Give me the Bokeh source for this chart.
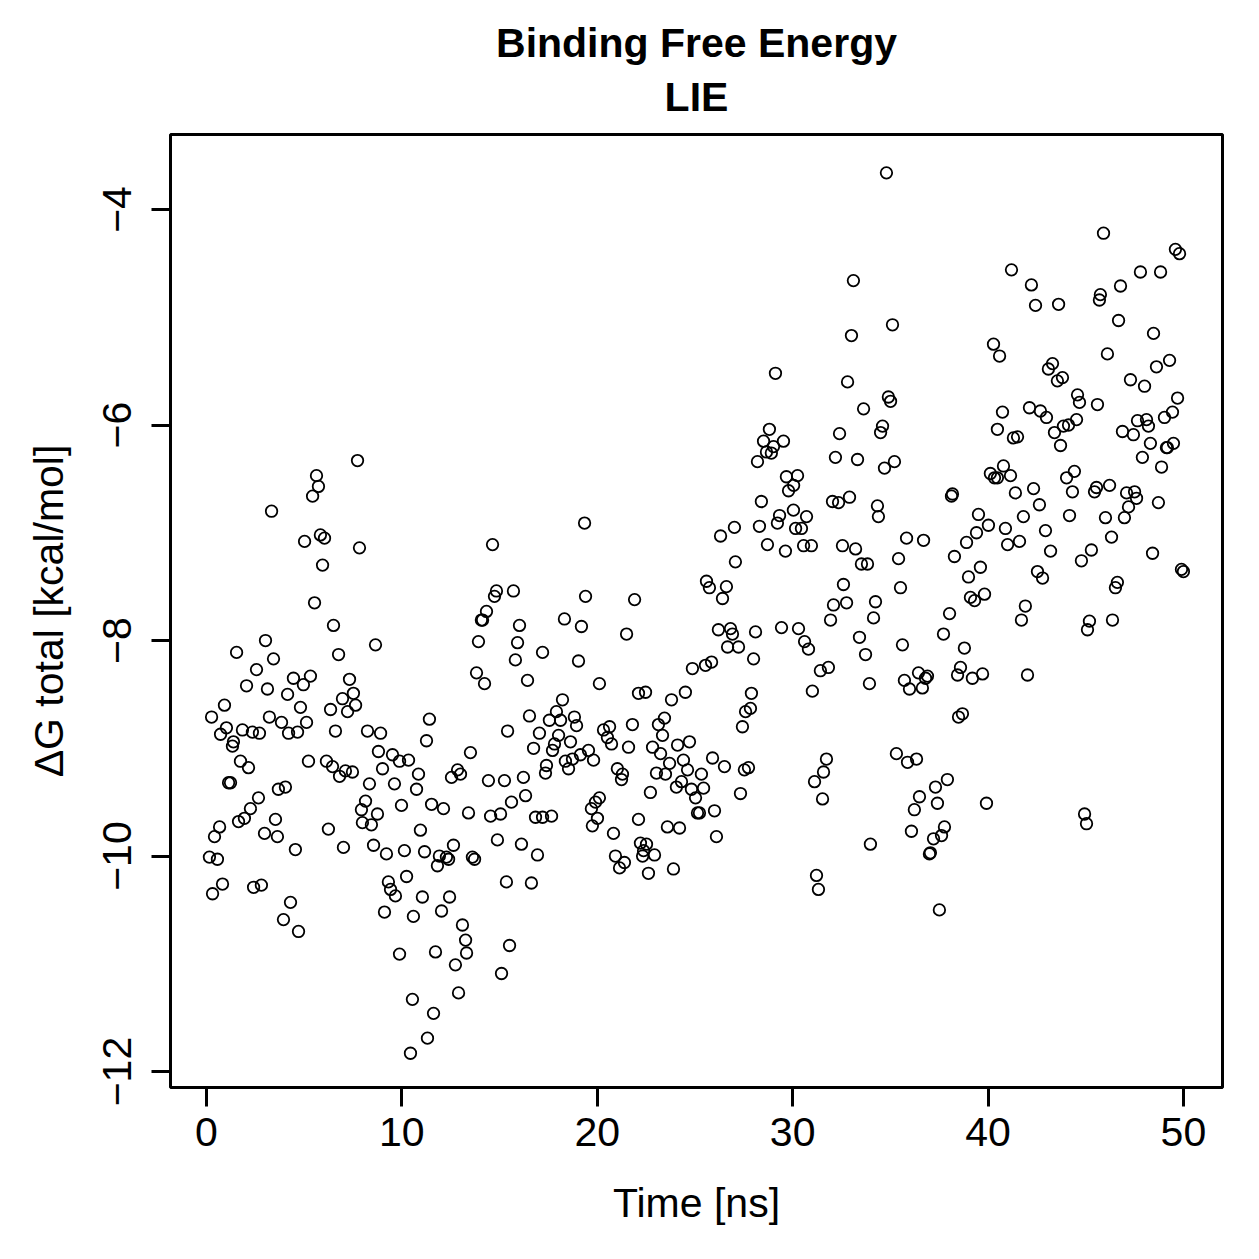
from bokeh.plotting import figure
from bokeh.models import Range1d, Title, FixedTicker
from bokeh.embed import file_html
from bokeh.resources import INLINE

# Time [ns] and ΔG total [kcal/mol], in blocks of ~10 ns
time_0_10 = [7.73, 5.63, 5.73, 5.43, 3.33, 5.02, 5.83, 6.04, 7.83, 5.94, 5.53, 6.50, 3.02, 1.54, 3.43, 6.76, 8.65,
             2.56, 4.45, 4.96, 5.32, 7.32, 2.05, 3.12, 4.15, 6.96, 7.52, 7.63, 7.22, 4.81, 6.35, 0.92, 0.26, 3.22,
             3.84, 5.12, 1.02, 0.72, 1.84, 2.35, 2.71, 4.20, 4.66, 6.60, 8.24, 8.91, 1.38, 1.33, 8.80, 9.52, 1.74,
             2.15, 5.22, 6.14, 6.45, 7.11, 7.47, 9.01, 6.81, 9.62, 1.13, 1.23, 3.68, 4.04, 2.66, 2.25, 1.64, 1.94,
             0.67, 0.41, 3.53, 2.97, 3.63, 6.24, 8.34, 8.14, 7.93, 8.75, 7.98, 8.44, 9.98, 4.55, 7.01, 8.55, 9.21,
             0.15, 0.56, 0.82, 0.31, 2.41, 2.81, 9.31, 9.42, 9.67, 9.11, 4.30, 3.94, 4.71, 9.88]
dg_0_10 = [-6.33, -6.47, -6.57, -6.66, -6.80, -7.08, -7.02, -7.05, -7.14, -7.30, -7.65, -7.86, -8.00, -8.11, -8.17,
           -8.13, -8.04, -8.27, -8.35, -8.41, -8.33, -8.36, -8.42, -8.45, -8.50, -8.54, -8.49, -8.60, -8.66, -8.62,
           -8.64, -8.60, -8.71, -8.71, -8.76, -8.76, -8.81, -8.87, -8.83, -8.85, -8.86, -8.86, -8.85, -8.84, -8.84,
           -8.86, -8.94, -8.98, -9.03, -9.06, -9.12, -9.18, -9.12, -9.12, -9.17, -9.21, -9.22, -9.19, -9.26, -9.33,
           -9.32, -9.32, -9.38, -9.36, -9.46, -9.56, -9.68, -9.65, -9.73, -9.82, -9.66, -9.79, -9.82, -9.75, -9.33,
           -9.49, -9.57, -9.61, -9.69, -9.71, -9.53, -9.94, -9.92, -9.90, -9.98, -10.01, -10.03, -10.26, -10.35,
           -10.29, -10.27, -10.24, -10.31, -10.37, -10.52, -10.43, -10.59, -10.70, -10.91]

time_10_20 = [19.35, 14.64, 14.84, 14.74, 15.71, 19.40, 14.33, 14.07, 14.13, 18.32, 19.19, 16.02, 13.92, 15.92,
              17.20, 15.81, 19.04, 13.82, 14.23, 16.43, 20.11, 11.41, 11.26, 16.53, 15.41, 18.22, 17.91, 17.55,
              18.12, 18.83, 18.94, 17.04, 18.02, 18.63, 17.81, 17.71, 16.74, 19.55, 19.14, 18.73, 18.37, 19.81,
              9.88, 10.34, 13.51, 10.85, 12.85, 13.00, 12.54, 14.43, 15.25, 16.22, 17.40, 17.35, 18.53, 10.75,
              11.52, 12.13, 13.41, 14.54, 15.05, 15.61, 16.33, 16.84, 17.20, 17.66, 20.11, 19.91, 19.70, 20.01,
              19.75, 10.95, 10.13, 11.16, 11.92, 12.28, 12.39, 11.82, 12.64, 13.61, 13.72, 14.89, 16.12, 16.94,
              10.24, 15.35, 16.63, 11.05, 12.44, 10.59, 12.03, 13.10, 13.26, 13.31, 12.74, 11.72, 15.51, 15.10,
              12.90, 10.54, 11.62, 11.31, 10.44]
dg_10_20 = [-6.91, -7.11, -7.54, -7.59, -7.54, -7.59, -7.73, -7.81, -7.81, -7.80, -7.87, -7.86, -8.01, -8.02,
            -8.11, -8.18, -8.19, -8.30, -8.40, -8.37, -8.40, -8.73, -8.93, -8.70, -8.84, -8.55, -8.66, -8.74,
            -8.74, -8.71, -8.79, -8.86, -8.88, -8.94, -8.96, -9.02, -9.00, -9.02, -9.06, -9.10, -9.12, -9.11,
            -9.12, -9.11, -9.04, -9.24, -9.20, -9.24, -9.27, -9.30, -9.30, -9.27, -9.16, -9.23, -9.19, -9.38,
            -9.52, -9.56, -9.60, -9.63, -9.61, -9.50, -9.44, -9.64, -9.64, -9.63, -9.46, -9.50, -9.56, -9.65,
            -9.72, -9.76, -9.95, -9.96, -10.00, -10.01, -10.03, -10.09, -9.90, -10.01, -10.03, -9.85, -9.89,
            -9.99, -10.19, -10.24, -10.25, -10.38, -10.38, -10.56, -10.51, -10.64, -10.78, -10.90, -11.01,
            -10.89, -10.83, -11.09, -11.27, -11.33, -11.46, -11.69, -11.83]

time_20_30 = [28.40, 29.33, 29.22, 29.68, 29.79, 29.53, 26.31, 27.02, 28.30, 28.71, 29.63, 27.07, 25.59, 25.74,
              26.61, 26.41, 21.91, 21.50, 26.20, 26.82, 26.92, 26.67, 27.23, 28.10, 29.43, 28.00, 24.87, 25.54,
              25.85, 22.11, 22.47, 23.80, 24.51, 27.89, 27.59, 27.84, 27.43, 23.44, 23.13, 23.34, 21.80, 20.32,
              20.63, 20.52, 20.73, 21.60, 22.83, 23.24, 24.11, 24.72, 21.03, 21.29, 21.24, 23.70, 24.41, 24.62,
              25.33, 23.03, 23.49, 25.90, 26.51, 27.53, 27.74, 24.05, 24.31, 24.82, 25.44, 25.03, 22.72, 27.33,
              22.11, 20.83, 23.59, 24.21, 25.13, 25.23, 26.00, 26.10, 22.21, 22.52, 22.37, 22.32, 22.93, 20.93,
              21.39, 21.14, 22.62, 23.90, 29.12, 28.81, 28.51, 29.02, 28.66, 28.91, 28.20]
dg_20_30 = [-6.71, -6.84, -6.91, -6.48, -6.61, -6.15, -7.03, -6.95, -6.94, -7.11, -7.17, -7.27, -7.45, -7.51,
            -7.50, -7.61, -7.62, -7.94, -7.90, -7.89, -7.94, -8.06, -8.06, -7.92, -7.88, -8.17, -8.26, -8.23,
            -8.20, -8.49, -8.48, -8.55, -8.48, -8.49, -8.66, -8.63, -8.80, -8.72, -8.78, -8.88, -8.78, -8.83,
            -8.80, -8.90, -8.96, -8.99, -8.99, -9.05, -8.97, -8.94, -9.19, -9.24, -9.29, -9.14, -9.11, -9.20,
            -9.24, -9.23, -9.24, -9.09, -9.17, -9.20, -9.18, -9.36, -9.31, -9.38, -9.37, -9.46, -9.41, -9.42,
            -9.66, -9.79, -9.73, -9.74, -9.60, -9.60, -9.58, -9.82, -9.88, -9.89, -9.95, -10.00, -9.99, -10.00,
            -10.06, -10.11, -10.16, -10.12, -5.52, -6.04, -6.15, -6.20, -6.25, -6.26, -6.34]

time_30_40 = [34.80, 33.11, 35.11, 33.01, 32.81, 34.90, 35.01, 33.63, 34.60, 34.50, 32.40, 32.19, 33.32, 35.21,
              34.70, 30.25, 30.05, 32.04, 32.35, 32.91, 34.34, 34.39, 38.18, 38.13, 30.04, 30.71, 30.15, 30.45,
              39.51, 40.02, 39.41, 38.90, 35.83, 36.70, 30.56, 30.96, 32.55, 33.22, 33.52, 33.83, 35.42, 38.28,
              39.61, 39.00, 39.10, 39.31, 39.82, 32.60, 35.52, 32.09, 32.76, 34.24, 34.14, 31.94, 38.03, 30.30,
              30.61, 30.81, 33.42, 37.72, 35.62, 38.79, 33.73, 31.42, 31.83, 31.01, 33.93, 35.72, 35.98, 36.44,
              36.64, 36.90, 36.80, 38.59, 38.44, 39.20, 39.72, 38.49, 38.69, 31.73, 31.58, 31.12, 31.53, 35.31,
              35.88, 36.34, 37.92, 37.31, 36.49, 36.23, 37.41, 39.92, 36.08, 37.77, 37.62, 37.21, 37.05, 37.00,
              33.98, 31.22, 31.32, 37.51]
dg_30_40 = [-3.66, -4.66, -5.07, -5.17, -5.60, -5.74, -5.78, -5.85, -6.01, -6.07, -6.08, -6.30, -6.32, -6.34,
            -6.40, -6.47, -6.56, -6.71, -6.72, -6.67, -6.75, -6.85, -6.64, -6.66, -6.79, -6.85, -6.96, -6.96,
            -6.83, -6.93, -7.00, -7.09, -7.05, -7.07, -7.12, -7.12, -7.12, -7.15, -7.29, -7.29, -7.24, -7.22,
            -7.32, -7.41, -7.60, -7.63, -7.57, -7.48, -7.51, -7.67, -7.65, -7.64, -7.79, -7.81, -7.75, -7.89,
            -8.01, -8.08, -7.97, -7.94, -8.04, -8.07, -8.13, -8.28, -8.25, -8.47, -8.40, -8.37, -8.45, -8.30,
            -8.44, -8.33, -8.35, -8.25, -8.32, -8.35, -8.31, -8.71, -8.68, -9.10, -9.22, -9.31, -9.47, -9.05,
            -9.13, -9.10, -9.29, -9.36, -9.45, -9.57, -9.51, -9.51, -9.77, -9.73, -9.81, -9.84, -9.97, -9.98,
            -9.89, -10.18, -10.31, -10.50]

time_40_50 = [45.91, 49.59, 49.80, 41.20, 42.22, 47.80, 48.83, 46.78, 45.75, 45.70, 42.43, 43.61, 46.68, 48.47,
              40.28, 40.59, 46.11, 43.30, 43.09, 43.55, 43.81, 49.29, 48.62, 47.29, 48.01, 44.58, 44.68, 45.60,
              49.70, 42.12, 42.68, 42.99, 40.74, 40.48, 41.30, 41.51, 43.40, 43.86, 44.12, 44.53, 43.71, 46.88,
              47.44, 47.65, 48.11, 48.21, 49.03, 49.44, 48.31, 49.13, 49.18, 49.49, 47.90, 48.88, 40.79, 40.33,
              40.48, 41.15, 40.12, 44.02, 44.42, 41.40, 42.33, 44.32, 45.45, 45.55, 46.22, 47.09, 47.50, 47.60,
              48.72, 42.63, 47.19, 41.81, 44.17, 46.01, 46.98, 40.89, 42.94, 41.00, 41.61, 43.20, 46.32, 45.29,
              48.42, 44.78, 49.90, 50.00, 42.53, 42.79, 46.62, 46.52, 41.91, 41.71, 45.19, 45.09, 46.37, 42.02,
              44.94, 45.04]
dg_40_50 = [-4.22, -4.37, -4.41, -4.56, -4.70, -4.58, -4.58, -4.71, -4.79, -4.84, -4.89, -4.88, -5.03, -5.15,
            -5.25, -5.36, -5.34, -5.43, -5.48, -5.59, -5.56, -5.40, -5.46, -5.58, -5.64, -5.72, -5.79, -5.81,
            -5.75, -5.84, -5.87, -5.93, -5.88, -6.04, -6.12, -6.11, -6.07, -6.01, -6.00, -5.95, -6.19, -6.06,
            -6.09, -5.96, -5.95, -6.01, -5.93, -5.88, -6.17, -6.21, -6.21, -6.17, -6.30, -6.39, -6.38, -6.49,
            -6.49, -6.47, -6.45, -6.49, -6.43, -6.63, -6.59, -6.62, -6.62, -6.58, -6.56, -6.63, -6.62, -6.68,
            -6.72, -6.74, -6.76, -6.85, -6.84, -6.86, -6.86, -6.96, -6.98, -7.11, -7.08, -7.17, -7.04, -7.16,
            -7.19, -7.26, -7.34, -7.36, -7.36, -7.42, -7.46, -7.51, -7.68, -7.81, -7.82, -7.90, -7.81, -8.32,
            -9.61, -9.70]

x_ticks = [0, 10, 20, 30, 40, 50]
y_ticks = [-12, -10, -8, -6, -4]

time = time_0_10 + time_10_20 + time_20_30 + time_30_40 + time_40_50
dg = dg_0_10 + dg_10_20 + dg_20_30 + dg_30_40 + dg_40_50

FONT = "Liberation Sans"
FS = "41px"

p = figure(width=1259, height=1259, output_backend="svg", toolbar_location=None, title=None,
           x_range=Range1d(-1.842, 52.0), y_range=Range1d(-12.148, -3.304),
           min_border_left=170, min_border_right=37, min_border_top=134, min_border_bottom=172)
p.background_fill_color = "white"
p.border_fill_color = "white"
p.grid.visible = False
p.outline_line_color = "black"
p.outline_line_width = 3

p.scatter(time, dg, marker="circle", size=11.5, fill_color=None, line_color="black", line_width=1.8)

for ax in (p.xaxis[0], p.yaxis[0]):
    ax.axis_line_color = None
    ax.major_tick_line_color = "black"
    ax.major_tick_line_width = 3
    ax.major_tick_in = 0
    ax.major_tick_out = 19
    ax.minor_tick_line_color = None
    ax.major_label_text_font = FONT
    ax.major_label_text_font_size = FS
    ax.major_label_text_color = "black"
    ax.axis_label_text_font = FONT
    ax.axis_label_text_font_size = FS
    ax.axis_label_text_font_style = "normal"
    ax.axis_label_text_color = "black"

p.xaxis[0].ticker = FixedTicker(ticks=x_ticks)
p.yaxis[0].ticker = FixedTicker(ticks=y_ticks)
p.xaxis[0].axis_label = "Time [ns]"
p.yaxis[0].axis_label = "ΔG total [kcal/mol]"
p.xaxis[0].major_label_standoff = 11
p.xaxis[0].axis_label_standoff = 31
p.yaxis[0].major_label_orientation = "parallel"
p.yaxis[0].major_label_standoff = 20
p.yaxis[0].axis_label_standoff = 29

p.add_layout(Title(text="LIE", align="center", text_font=FONT, text_font_size=FS,
                   text_font_style="bold", text_color="black", standoff=30), "above")
p.add_layout(Title(text="Binding Free Energy", align="center", text_font=FONT, text_font_size=FS,
                   text_font_style="bold", text_color="black", standoff=-18), "above")

open("out.html", "w").write(file_html(p, INLINE))
